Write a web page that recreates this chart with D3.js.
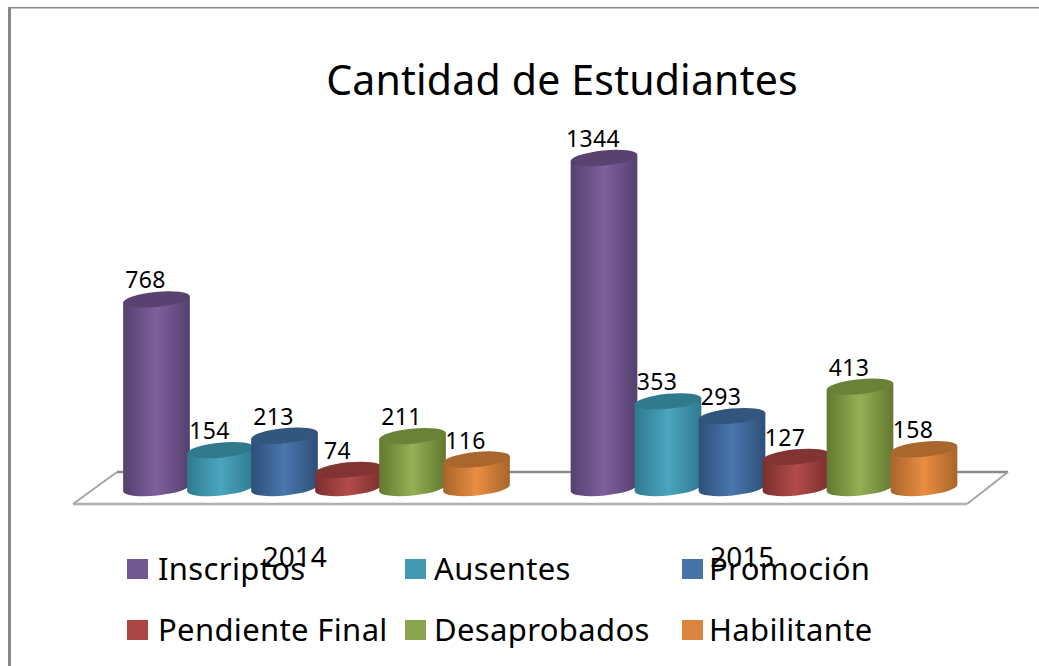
<!DOCTYPE html>
<html><head><meta charset="utf-8">
<script src="https://cdn.jsdelivr.net/npm/d3@7"></script>
<style>html,body{margin:0;padding:0;background:#fff;overflow:hidden}svg{display:block}text{font-family:"Noto Sans",sans-serif;fill:#000}</style>
</head><body><svg id="c" width="1039" height="666"></svg>
<script>
const years = ["2014","2015"];
const seriesNames = ["Inscriptos","Ausentes","Promoción","Pendiente Final","Desaprobados","Habilitante"];
const values2014 = [768,154,213,74,211,116];
const values2015 = [1344,353,293,127,413,158];
const lightColors = ["#7f609c","#4aa5bf","#4a77ad","#b34c4a","#93b056","#ea8d42"];
const darkColors = ["#55406f","#2f7a8e","#2d4f78","#7a2f2e","#63782f","#a8652a"];
const topColors = ["#5a4270","#31798c","#33567f","#823333","#6a8238","#a9672e"];
const legendColors = ["#71588f","#4198af","#4572a7","#aa4643","#89a54e","#db843d"];

const W=1039,H=666;
const svg=d3.select("#c");
const frame=svg.append("g");
frame.append("rect").attr("x",8).attr("y",7).attr("width",3).attr("height",H-7).attr("fill","#888");
frame.append("rect").attr("x",8).attr("y",7).attr("width",W-8).attr("height",1.5).attr("fill","#888");

svg.append("text").attr("x",562).attr("y",95).attr("text-anchor","middle")
  .attr("font-size",41).attr("letter-spacing",0.2).text("Cantidad de Estudiantes");

const y=d3.scaleLinear().domain([0,1344]).range([488,158]);
const xFront=d3.scaleBand().domain(years).range([73,968]);
const xInner=d3.scaleBand().domain(seriesNames).range([50,434]);
const barW=xInner.bandwidth()+3, rx=barW/2, ry=7.5, tilt=-5.7;
const dx=rx*Math.cos(tilt*Math.PI/180), dy=rx*Math.sin(tilt*Math.PI/180);

// floor
const floorY0=y(0)-16, floorY1=y(0)+16;
svg.append("path").attr("d",`M73,${floorY1}L117,${floorY0}H1008L967,${floorY1}Z`)
  .attr("fill","#fff").attr("stroke","none");
svg.append("path").attr("d",`M73,${floorY1}L117,${floorY0}`).attr("stroke","#a6a6a6").attr("stroke-width",2).attr("fill","none");
svg.append("path").attr("d",`M117,${floorY0}H1008`).attr("stroke","#8a8a8a").attr("stroke-width",2.5).attr("fill","none");
svg.append("path").attr("d",`M1008,${floorY0}L967,${floorY1}`).attr("stroke","#a6a6a6").attr("stroke-width",2).attr("fill","none");
svg.append("path").attr("d",`M73,${floorY1}H967`).attr("stroke","#b0b0b0").attr("stroke-width",2.5).attr("fill","none");

// gradients
const defs=svg.append("defs");
seriesNames.forEach((s,i)=>{
  const g=defs.append("linearGradient").attr("id","g"+i);
  g.append("stop").attr("offset","0").attr("stop-color",darkColors[i]);
  g.append("stop").attr("offset","0.5").attr("stop-color",lightColors[i]);
  g.append("stop").attr("offset","1").attr("stop-color",darkColors[i]);
});

const rows=years.flatMap((yr,gi)=>{
  const vals=gi===0?values2014:values2015;
  return seriesNames.map((s,i)=>({yr,s,i,v:vals[i],cx:xFront(yr)+xInner(s)+barW/2}));
});

// labels lie behind the bars
svg.append("g").selectAll("text").data(rows).join("text")
  .attr("x",d=>d.cx-11).attr("y",d=>y(d.v)-11).attr("text-anchor","middle")
  .attr("font-size",23).attr("letter-spacing",0.3).text(d=>d.v);

const bars=svg.append("g").selectAll("g").data(rows).join("g");
bars.append("path").attr("fill",d=>`url(#g${d.i})`).attr("d",d=>{
  const t=y(d.v), b=y(0);
  return `M${d.cx-dx},${t-dy}L${d.cx-dx},${b-dy}A${rx},${ry} ${tilt} 0 0 ${d.cx+dx},${b+dy}L${d.cx+dx},${t+dy}Z`;
});
bars.append("ellipse").attr("rx",rx).attr("ry",ry).attr("fill",d=>topColors[d.i])
  .attr("transform",d=>`translate(${d.cx},${y(d.v)}) rotate(${tilt})`);

// category labels
svg.append("g").selectAll("text").data(years).join("text")
  .attr("x",d=>xFront(d)+xFront.bandwidth()/2-2).attr("y",567).attr("text-anchor","middle")
  .attr("font-size",28).text(d=>d);

// legend
const legCol=d3.scaleOrdinal().domain([0,1,2]).range([127,405,682]);
const legRow=d3.scaleOrdinal().domain([0,1]).range([579,640]);
const leg=svg.append("g").selectAll("g").data(seriesNames).join("g")
  .attr("transform",(d,i)=>`translate(${legCol(i%3)},${legRow(Math.floor(i/3))})`);
leg.append("rect").attr("x",0).attr("y",-20).attr("width",21).attr("height",20).attr("fill",(d,i)=>legendColors[i]);
leg.append("text").attr("x",(d,i)=>i%3===2?27:i%3===1?29:31).attr("y",1).attr("font-size",31).attr("letter-spacing",0.35).text(d=>d);
</script></body></html>
